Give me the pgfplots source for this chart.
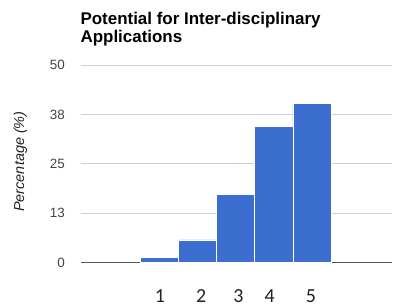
\documentclass[border=0pt]{standalone}
\usepackage{fontspec}
\setmainfont{Liberation Sans}
\newfontfamily\xlfont{Carlito}
\usepackage{pgfplots}
\pgfplotsset{compat=1.18}
\definecolor{barblue}{HTML}{3B6ECF}
\definecolor{gridgray}{HTML}{D0D0D0}
\definecolor{basegray}{HTML}{555555}
\definecolor{ticktext}{HTML}{444444}
\begin{document}
\begin{tikzpicture}
\useasboundingbox (0,0) rectangle (393bp,306bp);
\begin{axis}[
  scale only axis,
  width=311bp, height=197.5bp,
  at={(81bp,43.5bp)}, anchor=south west,
  xmin=-1.06, xmax=7.10,
  ymin=0, ymax=50,
  axis line style={draw=none},
  major tick length=0pt,
  ytick={12.5,25,37.5,50},
  yticklabels={13,25,38,50},
  extra y ticks={0},
  extra y tick labels={0},
  extra y tick style={grid style={draw=basegray, line width=1.6bp}},
  ymajorgrids,
  grid style={draw=gridgray, line width=1bp},
  yticklabel style={font=\fontsize{13.5}{14}\selectfont, text=ticktext, inner sep=0pt, anchor=east},
  yticklabel shift=16bp,
  xtick={1.01,2.09,3.07,3.89,4.97},
  xticklabels={1,2,3,4,5},
  xticklabel style={font=\xlfont\fontsize{20}{20}\selectfont, text=black!87, inner sep=0pt, anchor=base},
  xticklabel shift=39.5bp,
  every axis y label/.style={at={(axis description cs:-0.1945,0.511)}, rotate=90, anchor=center},
  ylabel={\fontsize{14.5}{15}\selectfont\itshape Percentage (\%)},
  ylabel style={text=black!87},
]
\addplot[ybar, bar width=1, fill=barblue, draw=white, line width=0.8bp]
  coordinates {(1,1.2) (2,5.7) (3,17.3) (4,34.5) (5,40.3)};
\end{axis}
\node[anchor=base west, inner sep=0pt, font=\fontsize{17}{17}\selectfont\bfseries] at (80.4bp,281bp) {Potential for Inter-disciplinary};
\node[anchor=base west, inner sep=0pt, font=\fontsize{17}{17}\selectfont\bfseries] at (80.4bp,263.7bp) {Applications};
\end{tikzpicture}
\end{document}
